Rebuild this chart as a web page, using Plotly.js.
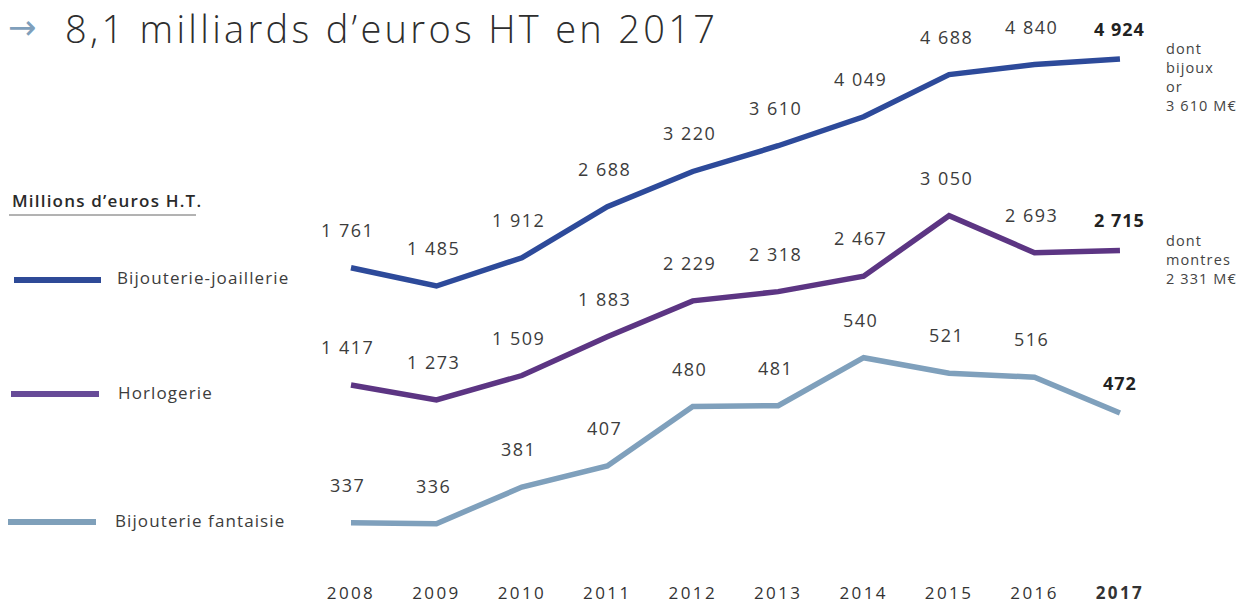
<!DOCTYPE html>
<html>
<head>
<meta charset="utf-8">
<script src="https://cdn.plot.ly/plotly-3.0.1.min.js"></script>
<style>html,body{margin:0;padding:0;background:#fff;}#chart{width:1237px;height:607px;}</style>
</head>
<body>
<div id="chart"></div>
<script>
// ---- data ----
const years = ['2008','2009','2010','2011','2012','2013','2014','2015','2016','2017'];
const yearLabels = ['2008','2009','2010','2011','2012','2013','2014','2015','2016','<b>2017</b>'];
const joaillerie = [1761, 1485, 1912, 2688, 3220, 3610, 4049, 4688, 4840, 4924];
const horlogerie = [1417, 1273, 1509, 1883, 2229, 2318, 2467, 3050, 2693, 2715];
const fantaisie  = [337, 336, 381, 407, 480, 481, 540, 521, 516, 472];
const seriesNames = ['Bijouterie-joaillerie', 'Horlogerie', 'Bijouterie fantaisie'];
const noteJoaillerie = 'dont<br>bijoux<br>or<br>3 610 M€';
const noteHorlogerie = 'dont<br>montres<br>2 331 M€';
const unitLabel = 'Millions d’euros H.T.';
const titleText = '8,1 milliards d’euros HT en 2017';

// ---- styling ----
const W = 1237, H = 607, B = 26, PH = H - B;
const FONT = 'Open Sans, Lato, sans-serif';
const colors = ['#2d4a9a', '#5c3583', '#7fa0bc'];
const legendColors = ['#2e4a97', '#674b98', '#7fa0ba'];
const txt = '#3c3c3c';

function sp(s, ls){ return '<span style="letter-spacing:' + ls + 'px">' + s + '</span>'; }
function fmt(v){ return String(v).replace(/\B(?=(\d{3})+(?!\d))/g, ' '); }
function px(x){ return x / W; }
function py(y){ return 1 - y / PH; }
// vertical band of each series: pixel intercept and pixels per unit
function bandRange(y0, s){ return [(y0 - PH) / s, y0 / s]; }

const allSeries = [joaillerie, horlogerie, fantaisie];
const yaxes = ['y', 'y2', 'y3'];

const traces = allSeries.map((vals, i) => ({
  type: 'scatter', mode: 'lines', x: years, y: vals, yaxis: yaxes[i],
  name: seriesNames[i], showlegend: false, hoverinfo: 'skip',
  line: {color: colors[i], width: 5.5, shape: 'linear'}
}));

const annotations = [];
allSeries.forEach((vals, i) => {
  vals.forEach((v, j) => {
    const last = j === vals.length - 1;
    annotations.push({
      x: j, y: v, xref: 'x', yref: yaxes[i],
      text: last ? '<b>' + sp(fmt(v), 1) + '</b>' : sp(fmt(v), 1.5),
      showarrow: false, xanchor: 'center', yanchor: 'middle',
      yshift: last ? 30 : 38, xshift: last ? 0 : -3,
      font: {family: FONT, size: 18, color: last ? '#222' : txt}
    });
  });
});

// notes on the right
annotations.push({x: px(1164), y: py(37), xref: 'paper', yref: 'paper', xanchor: 'left', yanchor: 'top', align: 'left',
  text: sp(noteJoaillerie, 1.1), showarrow: false, font: {family: FONT, size: 14.5, color: '#444'}});
annotations.push({x: px(1164), y: py(229), xref: 'paper', yref: 'paper', xanchor: 'left', yanchor: 'top', align: 'left',
  text: sp(noteHorlogerie, 1.1), showarrow: false, font: {family: FONT, size: 14.5, color: '#444'}});

// title
annotations.push({x: px(6), y: py(27), xref: 'paper', yref: 'paper', xanchor: 'left', yanchor: 'middle',
  text: '→', showarrow: false, font: {family: 'DejaVu Sans', size: 34, color: '#7f9fbb'}});
annotations.push({x: px(63), y: 1, xref: 'paper', yref: 'paper', xanchor: 'left', yanchor: 'top',
  text: sp(titleText, 3.3), showarrow: false, font: {family: FONT, size: 38, color: '#2e2e2e', weight: 300}});

// unit label
annotations.push({x: px(10), y: py(200), xref: 'paper', yref: 'paper', xanchor: 'left', yanchor: 'middle',
  text: sp(unitLabel, 1.2), showarrow: false, font: {family: FONT, size: 17, color: '#2a2a2a', weight: 600}});

// legend texts
const legY = [277, 392, 520];
const legTextX = [115, 116, 113];
seriesNames.forEach((n, i) => {
  annotations.push({x: px(legTextX[i]), y: py(legY[i]), xref: 'paper', yref: 'paper', xanchor: 'left', yanchor: 'middle',
    text: sp(n, 1.1), showarrow: false, font: {family: FONT, size: 17, color: txt}});
});

const legLineX = [[14, 101], [11, 99], [8, 96]];
const legLineY = [280, 394, 522];
const shapes = [
  {type: 'line', xref: 'paper', yref: 'paper', x0: px(9), x1: px(196), y0: py(215), y1: py(215), line: {color: '#666', width: 1}}
];
legLineX.forEach((xx, i) => {
  shapes.push({type: 'line', xref: 'paper', yref: 'paper', x0: px(xx[0]), x1: px(xx[1]), y0: py(legLineY[i]), y1: py(legLineY[i]),
    line: {color: legendColors[i], width: 6}});
});

const hiddenY = {showgrid: false, zeroline: false, showticklabels: false, showline: false, fixedrange: true};

const layout = {
  width: W, height: H,
  margin: {l: 0, r: 0, t: 0, b: B, pad: 0},
  paper_bgcolor: '#fff', plot_bgcolor: '#fff',
  showlegend: false,
  xaxis: {type: 'category', range: [-4.108, 10.37], showgrid: false, zeroline: false, showline: false,
    tickvals: years, ticktext: yearLabels.map(t => sp(t, 2.4)), ticks: '', ticklen: 0,
    tickfont: {family: FONT, size: 17, color: '#333'}},
  yaxis: Object.assign({range: bandRange(384, 0.066)}, hiddenY),
  yaxis2: Object.assign({range: bandRange(532, 0.1037), overlaying: 'y'}, hiddenY),
  yaxis3: Object.assign({range: bandRange(797, 0.8135), overlaying: 'y'}, hiddenY),
  annotations: annotations,
  shapes: shapes
};

Plotly.newPlot('chart', traces, layout, {displayModeBar: false, staticPlot: true});
</script>
</body>
</html>
